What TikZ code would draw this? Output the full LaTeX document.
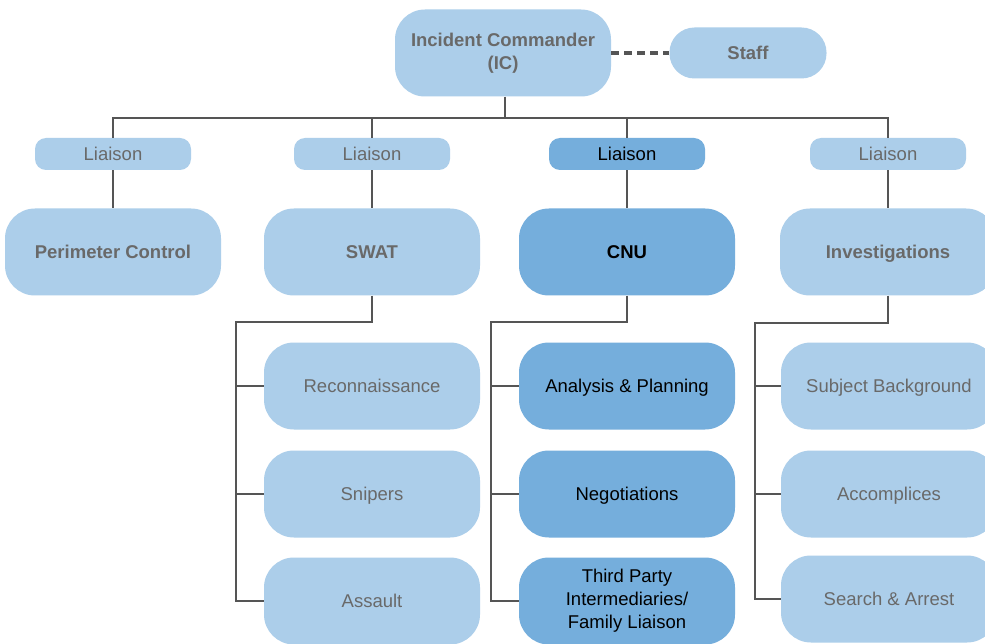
\documentclass[tikz,border=0pt]{standalone}
\usepackage{fontspec}
\setmainfont{Liberation Sans}
\definecolor{lightblue}{RGB}{172,206,234}
\definecolor{darkblue}{RGB}{117,174,220}
\definecolor{txtgray}{RGB}{105,105,105}
\definecolor{linegray}{RGB}{85,85,85}
\newcommand{\boxfont}{\fontsize{18.5}{23}\selectfont}
\tikzset{
  unitbox/.style={rectangle, inner sep=0pt, align=center, font=\boxfont},
  bigbox/.style={unitbox, rounded corners=30pt, minimum width=216pt, minimum height=87pt},
  liaisonbox/.style={unitbox, oneline, rounded corners=11pt, minimum width=156pt, minimum height=32pt},
  oneline/.style={text height=13.3pt, text depth=0pt},
  light/.style={fill=lightblue, text=txtgray},
  dark/.style={fill=darkblue, text=black},
  link/.style={draw=linegray, line width=2.7pt},
}
\begin{document}
\begin{tikzpicture}[x=1pt, y=-1pt]
\fill[white] (0,0) rectangle (985,644);
\useasboundingbox (0,0) rectangle (985,644);

% command level
\node[bigbox, light, font=\boxfont\bfseries] (ic) at (503,53) {Incident Commander\\(IC)};
\node[unitbox, oneline, light, font=\boxfont\bfseries, rounded corners=25pt,
      minimum width=157pt, minimum height=51pt] (staff) at (748,53) {Staff};

% liaisons
\node[liaisonbox, light] (l1) at (113,154) {Liaison};
\node[liaisonbox, light] (l2) at (372,154) {Liaison};
\node[liaisonbox, dark]  (l3) at (627,154) {Liaison};
\node[liaisonbox, light] (l4) at (888,154) {Liaison};

% units
\node[bigbox, oneline, light, font=\boxfont\bfseries] (pc)  at (113,252) {Perimeter Control};
\node[bigbox, oneline, light, font=\boxfont\bfseries] (swat) at (372,252) {SWAT};
\node[bigbox, oneline, dark,  font=\boxfont\bfseries] (cnu) at (627,252) {CNU};
\node[bigbox, oneline, light, font=\boxfont\bfseries] (inv) at (888,252) {Investigations};

% SWAT teams
\node[bigbox, oneline, light] (recon)   at (372,386) {Reconnaissance};
\node[bigbox, oneline, light] (snipers) at (372,494) {Snipers};
\node[bigbox, oneline, light] (assault) at (372,601) {Assault};

% CNU teams
\node[bigbox, oneline, dark] (analysis) at (627,386) {Analysis \& Planning};
\node[bigbox, oneline, dark] (negot)    at (627,494) {Negotiations};
\node[bigbox, dark] (third)    at (627,601) {Third Party\\Intermediaries/\\Family Liaison};

% Investigation teams
\node[bigbox, oneline, light] (subject) at (889,386) {Subject Background};
\node[bigbox, oneline, light] (accomp)  at (889,494) {Accomplices};
\node[bigbox, oneline, light] (search)  at (889,599) {Search \& Arrest};

% bus coordinates
\coordinate (bus)     at (505,118);
\coordinate (swatbus) at (236,322);
\coordinate (cnubus)  at (491,322);
\coordinate (invbus)  at (755,323);

% staff link
\draw[draw=linegray, line width=3.5pt, dash pattern=on 8pt off 5pt] (ic.east) -- (staff.west);

% command to liaisons
\draw[link] (ic.south -| bus) -- (bus);
\draw[link] (l1.north) |- (bus) -| (l4.north);
\draw[link] (l2.north) -- (l2.north |- bus);
\draw[link] (l3.north) -- (l3.north |- bus);

% liaisons to units
\draw[link] (l1) -- (pc);
\draw[link] (l2) -- (swat);
\draw[link] (l3) -- (cnu);
\draw[link] (l4) -- (inv);

% SWAT branch
\draw[link] (swat.south) |- (swatbus) -- (swatbus |- assault.west) -- (assault.west);
\draw[link] (swatbus |- recon.west) -- (recon.west);
\draw[link] (swatbus |- snipers.west) -- (snipers.west);

% CNU branch
\draw[link] (cnu.south) |- (cnubus) -- (cnubus |- third.west) -- (third.west);
\draw[link] (cnubus |- analysis.west) -- (analysis.west);
\draw[link] (cnubus |- negot.west) -- (negot.west);

% Investigations branch
\draw[link] (inv.south) |- (invbus) -- (invbus |- search.west) -- (search.west);
\draw[link] (invbus |- subject.west) -- (subject.west);
\draw[link] (invbus |- accomp.west) -- (accomp.west);
\end{tikzpicture}
\end{document}
